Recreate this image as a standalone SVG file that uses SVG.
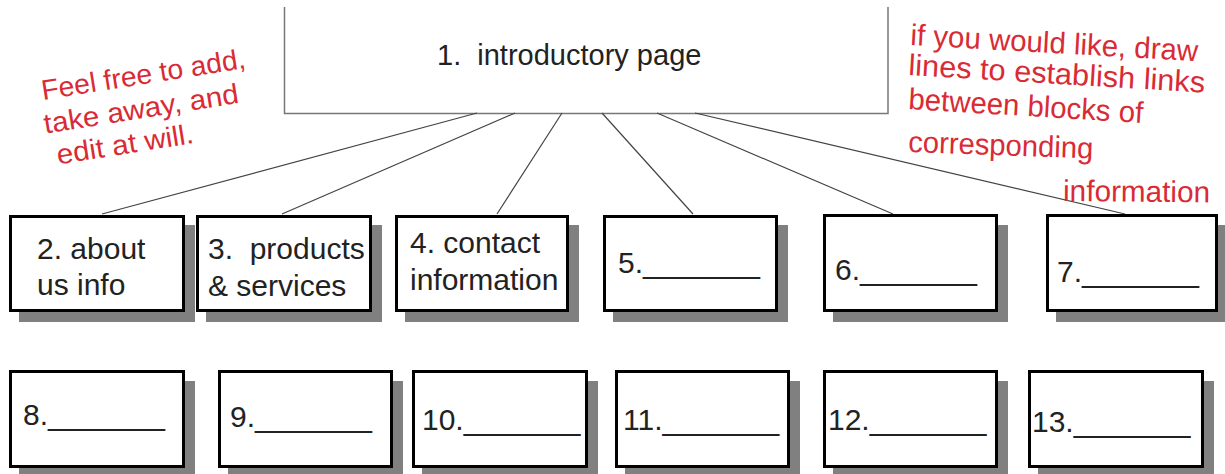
<svg xmlns="http://www.w3.org/2000/svg" width="1225" height="474" viewBox="0 0 1225 474">
<defs>
<style>
.box{fill:#fff;stroke:#000;stroke-width:3}
.shadow{fill:#808080}
.lbl{font-family:"Liberation Sans",Arial,sans-serif;font-size:30px;fill:#222}
.red{font-family:"Liberation Sans",Arial,sans-serif;fill:#d92b35}
.conn line{stroke:#444;stroke-width:1.2}
</style>
</defs>
<rect width="1225" height="474" fill="#fff"/>

<g id="n1">
<path d="M284.5 7 V113.5 H888 V7" fill="#fff" stroke="#777" stroke-width="1.5"/>
<text class="lbl" x="437" y="65" xml:space="preserve" style="font-size:29px">1.  introductory page</text>
</g>

<g id="connectors" class="conn">
<line x1="477" y1="113" x2="102" y2="214"/>
<line x1="515" y1="113" x2="282" y2="214"/>
<line x1="562" y1="113" x2="497" y2="214"/>
<line x1="602" y1="113" x2="693" y2="214"/>
<line x1="657" y1="113" x2="893" y2="214"/>
<line x1="695" y1="113" x2="1125" y2="214"/>
</g>

<g id="n2"><rect class="shadow" x="19" y="225" width="176" height="97"/><rect class="box" x="10.5" y="216.5" width="173" height="94"/>
<text class="lbl" x="37" y="259">2. about</text><text class="lbl" x="37" y="295">us info</text></g>
<g id="n3"><rect class="shadow" x="206" y="225" width="176" height="97"/><rect class="box" x="197.5" y="216.5" width="173" height="94"/>
<text class="lbl" x="208" y="259" xml:space="preserve">3.  products</text><text class="lbl" x="208" y="296">&amp; services</text></g>
<g id="n4"><rect class="shadow" x="405" y="225" width="174" height="97"/><rect class="box" x="396.5" y="216.5" width="171" height="94"/>
<text class="lbl" x="410" y="253">4. contact</text><text class="lbl" x="410" y="290">information</text></g>
<g id="n5"><rect class="shadow" x="613" y="225" width="175" height="97"/><rect class="box" x="604.5" y="216.5" width="172" height="94"/>
<text class="lbl" x="618" y="273">5._______</text></g>
<g id="n6"><rect class="shadow" x="833" y="225" width="175" height="97"/><rect class="box" x="824.5" y="215.5" width="172" height="95"/>
<text class="lbl" x="835" y="280">6._______</text></g>
<g id="n7"><rect class="shadow" x="1056" y="225" width="172" height="97"/><rect class="box" x="1047.5" y="215.5" width="169" height="95"/>
<text class="lbl" x="1057" y="282">7._______</text></g>

<g id="n8"><rect class="shadow" x="19" y="381" width="176" height="100"/><rect class="box" x="10.5" y="371.5" width="173" height="95"/>
<text class="lbl" x="23" y="425">8._______</text></g>
<g id="n9"><rect class="shadow" x="228" y="381" width="175" height="100"/><rect class="box" x="219.5" y="371.5" width="172" height="95"/>
<text class="lbl" x="230" y="427">9._______</text></g>
<g id="n10"><rect class="shadow" x="422" y="381" width="176" height="100"/><rect class="box" x="413.5" y="371.5" width="173" height="95"/>
<text class="lbl" x="422" y="430">10._______</text></g>
<g id="n11"><rect class="shadow" x="625" y="381" width="175" height="100"/><rect class="box" x="616.5" y="371.5" width="172" height="95"/>
<text class="lbl" x="623" y="430">11._______</text></g>
<g id="n12"><rect class="shadow" x="833" y="381" width="175" height="100"/><rect class="box" x="824.5" y="371.5" width="172" height="95"/>
<text class="lbl" x="828" y="430">12._______</text></g>
<g id="n13"><rect class="shadow" x="1038" y="381" width="176" height="100"/><rect class="box" x="1029.5" y="371.5" width="173" height="95"/>
<text class="lbl" x="1032" y="432">13._______</text></g>

<g id="note-left" transform="translate(43,100) rotate(-9)">
<text class="red" x="0" y="0" font-size="28" textLength="206" lengthAdjust="spacingAndGlyphs">Feel free to add,</text>
<text class="red" x="-3" y="33.5" font-size="28" textLength="197" lengthAdjust="spacingAndGlyphs">take away, and</text>
<text class="red" x="5" y="66" font-size="28" textLength="138" lengthAdjust="spacingAndGlyphs">edit at will.</text>
</g>

<g id="note-right">
<text class="red" x="910" y="45" font-size="30" textLength="288" lengthAdjust="spacingAndGlyphs" transform="rotate(3.2 910 45)">if you would like, draw</text>
<text class="red" x="908" y="75" font-size="30" textLength="297" lengthAdjust="spacingAndGlyphs" transform="rotate(3.4 908 75)">lines to establish links</text>
<text class="red" x="908" y="109" font-size="30" textLength="235" lengthAdjust="spacingAndGlyphs" transform="rotate(3.4 908 109)">between blocks of</text>
<text class="red" x="908" y="152" font-size="30" textLength="185" lengthAdjust="spacingAndGlyphs" transform="rotate(2 908 152)">corresponding</text>
<text class="red" x="1063" y="201" font-size="30" textLength="147" lengthAdjust="spacingAndGlyphs" transform="rotate(0.5 1063 201)">information</text>
</g>
</svg>
